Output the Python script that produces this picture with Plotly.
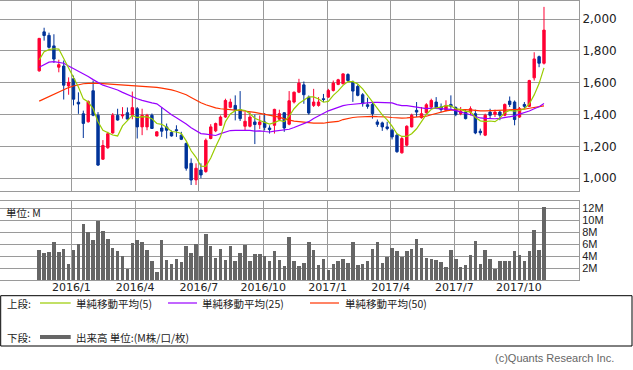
import pandas as pd
import plotly.graph_objects as go

# ---------------- data (weekly) ----------------
dates = pd.date_range("2015-11-16", periods=104, freq="7D")

open_ = [1675, 1920, 1898, 1832, 1698, 1705, 1580, 1625, 1478, 1405,
         1355, 1550, 1396, 1120, 1192, 1285, 1395, 1392, 1412, 1396,
         1437, 1323, 1323, 1396, 1266, 1316, 1323, 1288, 1305, 1271,
         1219, 1094, 990, 1052, 1042, 1250, 1298, 1333, 1385, 1446,
         1458, 1431, 1327, 1327, 1354, 1337, 1354, 1316, 1333, 1371,
         1412, 1340, 1479, 1541, 1587, 1510, 1458, 1458, 1500, 1510,
         1552, 1590, 1594, 1652, 1604, 1577, 1525, 1462, 1464, 1354,
         1348, 1323, 1302, 1271, 1160, 1208, 1323, 1427, 1381, 1412,
         1448, 1479, 1448, 1427, 1464, 1444, 1406, 1416, 1416, 1406,
         1296, 1271, 1416, 1402, 1416, 1396, 1485, 1479, 1385, 1464,
         1452, 1631, 1764, 1723]
high = [1882, 1946, 1915, 1905, 1745, 1740, 1634, 1645, 1540, 1425,
        1490, 1614, 1416, 1240, 1292, 1410, 1437, 1447, 1445, 1545,
        1448, 1437, 1405, 1407, 1295, 1447, 1344, 1300, 1333, 1292,
        1225, 1125, 1094, 1094, 1250, 1340, 1350, 1395, 1500, 1500,
        1521, 1548, 1416, 1416, 1400, 1395, 1410, 1333, 1437, 1431,
        1415, 1548, 1545, 1625, 1608, 1520, 1562, 1510, 1530, 1562,
        1614, 1625, 1660, 1660, 1614, 1590, 1535, 1506, 1479, 1369,
        1356, 1355, 1312, 1281, 1260, 1333, 1406, 1479, 1448, 1472,
        1500, 1510, 1470, 1490, 1521, 1452, 1448, 1427, 1452, 1431,
        1312, 1406, 1437, 1431, 1427, 1470, 1514, 1489, 1448, 1479,
        1619, 1792, 1771, 2077]
low = [1670, 1865, 1815, 1725, 1666, 1495, 1525, 1458, 1405, 1253,
       1350, 1390, 1077, 1115, 1185, 1280, 1362, 1375, 1370, 1371,
       1250, 1271, 1302, 1310, 1263, 1260, 1250, 1262, 1260, 1240,
       1048, 958, 958, 1000, 1035, 1245, 1290, 1330, 1380, 1440,
       1364, 1360, 1302, 1320, 1215, 1310, 1300, 1281, 1281, 1360,
       1292, 1333, 1470, 1535, 1468, 1400, 1448, 1450, 1480, 1505,
       1545, 1585, 1590, 1608, 1480, 1515, 1450, 1437, 1375, 1323,
       1298, 1302, 1244, 1160, 1155, 1200, 1320, 1385, 1375, 1405,
       1440, 1438, 1415, 1420, 1437, 1390, 1396, 1370, 1396, 1277,
       1270, 1265, 1375, 1385, 1365, 1390, 1448, 1333, 1380, 1440,
       1448, 1614, 1698, 1715]
close = [1879, 1897, 1823, 1749, 1714, 1585, 1603, 1497, 1467, 1345,
         1482, 1396, 1083, 1206, 1280, 1396, 1366, 1398, 1372, 1444,
         1323, 1396, 1396, 1313, 1292, 1296, 1302, 1266, 1300, 1245,
         1063, 989, 1063, 1021, 1239, 1323, 1344, 1385, 1489, 1479,
         1427, 1375, 1358, 1385, 1338, 1354, 1320, 1306, 1433, 1406,
         1316, 1487, 1541, 1598, 1525, 1410, 1479, 1479, 1495, 1552,
         1598, 1619, 1656, 1614, 1548, 1521, 1469, 1452, 1406, 1339,
         1323, 1313, 1260, 1167, 1250, 1327, 1396, 1416, 1406, 1462,
         1489, 1444, 1432, 1458, 1452, 1400, 1421, 1375, 1437, 1285,
         1286, 1396, 1396, 1416, 1396, 1464, 1464, 1369, 1437, 1452,
         1614, 1750, 1723, 1931]

ma5 = [1744, 1795, 1808, 1814, 1812, 1754, 1695, 1630, 1573, 1499,
       1479, 1437, 1355, 1302, 1289, 1272, 1266, 1329, 1362, 1395,
       1381, 1387, 1386, 1374, 1344, 1339, 1320, 1294, 1291, 1282,
       1235, 1173, 1132, 1076, 1075, 1127, 1198, 1262, 1356, 1404,
       1425, 1431, 1426, 1405, 1377, 1362, 1351, 1341, 1350, 1364,
       1356, 1390, 1437, 1470, 1493, 1512, 1511, 1498, 1478, 1483,
       1521, 1549, 1584, 1608, 1607, 1592, 1562, 1521, 1479, 1437,
       1398, 1367, 1328, 1280, 1263, 1263, 1280, 1311, 1359, 1401,
       1434, 1443, 1447, 1457, 1455, 1437, 1433, 1421, 1417, 1384,
       1361, 1356, 1360, 1356, 1378, 1414, 1427, 1422, 1426, 1437,
       1467, 1524, 1595, 1694]
ma25 = [1698, 1715, 1730, 1733, 1730, 1723, 1705, 1690, 1675, 1660,
        1640, 1620, 1600, 1585, 1575, 1565, 1555, 1540, 1525, 1512,
        1500, 1490, 1480, 1474, 1468, 1445, 1421, 1399, 1381, 1362,
        1341, 1317, 1299, 1281, 1277, 1271, 1269, 1281, 1292, 1300,
        1301, 1302, 1300, 1301, 1296, 1298, 1294, 1291, 1296, 1300,
        1301, 1308, 1319, 1331, 1343, 1356, 1376, 1393, 1412, 1424,
        1435, 1446, 1457, 1462, 1465, 1469, 1472, 1476, 1477, 1477,
        1476, 1475, 1474, 1463, 1457, 1457, 1453, 1448, 1441, 1438,
        1441, 1440, 1438, 1437, 1433, 1425, 1417, 1406, 1399, 1388,
        1379, 1376, 1373, 1374, 1376, 1382, 1388, 1392, 1403, 1411,
        1423, 1437, 1449, 1470]
ma50 = [1485, 1500, 1515, 1530, 1545, 1558, 1570, 1580, 1588, 1594,
        1597, 1598, 1597, 1595, 1593, 1591, 1589, 1587, 1585, 1583,
        1582, 1580, 1577, 1574, 1571, 1567, 1562, 1555, 1547, 1538,
        1525, 1508, 1490, 1475, 1462, 1450, 1442, 1437, 1433, 1430,
        1428, 1426, 1423, 1419, 1414, 1408, 1402, 1396, 1390, 1384,
        1373, 1365, 1359, 1356, 1352, 1349, 1346, 1346, 1346, 1351,
        1353, 1357, 1369, 1377, 1382, 1385, 1387, 1388, 1389, 1387,
        1387, 1385, 1382, 1379, 1378, 1379, 1381, 1384, 1386, 1390,
        1399, 1408, 1415, 1424, 1428, 1430, 1432, 1431, 1430, 1426,
        1424, 1424, 1425, 1425, 1427, 1429, 1432, 1433, 1433, 1434,
        1440, 1445, 1449, 1455]

volume_m = [5.06, 4.5, 4.7, 6.4, 4.7, 5.2, 2.6, 5.06, 6.0, 9.4,
            8.0, 6.6, 9.9, 8.2, 6.8, 5.4, 4.9, 4.0, 1.9, 6.1,
            6.6, 6.3, 5.06, 3.2, 1.4, 6.6, 3.3, 2.6, 3.5, 3.0,
            5.7, 4.5, 6.0, 4.0, 7.6, 5.6, 3.7, 5.2, 3.3, 5.7,
            3.2, 4.5, 5.9, 3.2, 4.4, 4.4, 4.0, 3.2, 4.9, 3.3,
            2.3, 7.1, 3.2, 2.3, 2.8, 6.3, 5.06, 2.5, 3.5, 1.6,
            2.6, 3.2, 3.5, 2.8, 6.4, 2.5, 2.6, 3.2, 5.2, 6.3,
            2.8, 3.9, 5.4, 4.9, 3.9, 4.9, 5.2, 6.8, 5.4, 3.7,
            3.5, 3.3, 3.0, 2.2, 5.0, 3.5, 2.1, 2.5, 4.2, 6.5,
            2.7, 5.0, 3.5, 1.9, 3.1, 3.2, 3.2, 4.8, 4.2, 3.1,
            4.8, 8.4, 5.0, 12.2]
volume = [v * 1e6 for v in volume_m]

month_ticks = ["2016-01-01", "2016-04-01", "2016-07-01", "2016-10-01",
               "2017-01-01", "2017-04-01", "2017-07-01", "2017-10-01"]
month_labels = ["2016/1", "2016/4", "2016/7", "2016/10",
                "2017/1", "2017/4", "2017/7", "2017/10"]
price_ticks = [1000, 1200, 1400, 1600, 1800, 2000]
vol_ticks = [2e6, 4e6, 6e6, 8e6, 10e6, 12e6]
vol_labels = ["2M", "4M", "6M", "8M", "10M", "12M"]

# ---------------- style ----------------
RED = "#ff0033"
BLUE = "#003399"
C_MA5 = "#99cc00"
C_MA25 = "#9900ff"
C_MA50 = "#ff3300"
GRID = "#9a9a9a"
VOLC = "#666666"

W, H = 633, 370
ML, MR, MT, MB = 0, 54, 1, 90
PH = H - MT - MB  # plot height in px


def px(xp):
    return xp / (W - ML - MR)


def py(yp):
    return (H - MB - yp) / PH


fig = go.Figure()
fig.add_trace(go.Candlestick(
    x=dates, open=open_, high=high, low=low, close=close,
    increasing=dict(line=dict(color=RED, width=1), fillcolor=RED),
    decreasing=dict(line=dict(color=BLUE, width=1), fillcolor=BLUE),
    whiskerwidth=0, xaxis="x", yaxis="y", showlegend=False,
))
for vals, col in [(ma50, C_MA50), (ma25, C_MA25), (ma5, C_MA5)]:
    fig.add_trace(go.Scatter(x=dates, y=vals, mode="lines",
                             line=dict(color=col, width=1.2),
                             xaxis="x", yaxis="y", showlegend=False))
fig.add_trace(go.Bar(x=dates, y=volume, marker=dict(color=VOLC, line=dict(width=0)),
                     width=5 * 24 * 3600 * 1000, xaxis="x2", yaxis="y2",
                     showlegend=False))

xr = ["2015-09-21", "2017-12-26"]
axis_common = dict(showgrid=True, gridcolor=GRID, gridwidth=1, showline=True,
                   linecolor=GRID, linewidth=1, mirror=True, zeroline=False,
                   ticks="")
fig.update_layout(
    width=W, height=H,
    margin=dict(l=ML, r=MR, t=MT, b=MB),
    paper_bgcolor="white", plot_bgcolor="white",
    showlegend=False,
    bargap=0,
    xaxis=dict(domain=[0, 1], anchor="y", range=xr, type="date",
               tickvals=month_ticks, showticklabels=False,
               rangeslider=dict(visible=False), **axis_common),
    yaxis=dict(domain=[py(190.7), 1], anchor="x", side="right",
               range=[922, 2114], tickvals=price_ticks, tickformat=",",
               tickfont=dict(family="DejaVu Sans", size=12, color="#222"),
               **axis_common),
    xaxis2=dict(domain=[0, 1], anchor="y2", range=xr, type="date",
                tickvals=month_ticks, ticktext=month_labels,
                ticklabelstandoff=-3,
                tickfont=dict(family="DejaVu Sans", size=11, color="#222"),
                **axis_common),
    yaxis2=dict(domain=[0, py(201)], anchor="x2", side="right",
                range=[0, 13.17e6], tickvals=vol_ticks, ticktext=vol_labels,
                tickfont=dict(family="Liberation Sans", size=11, color="#222"),
                **axis_common),
)

JP = "Noto Sans CJK JP"
shapes = [
    dict(type="rect", xref="paper", yref="paper", x0=px(0.7), x1=px(632),
         y0=py(295.7), y1=py(346), line=dict(color="black", width=1)),
    dict(type="line", xref="paper", yref="paper", x0=px(40), x1=px(70.7),
         y0=py(303), y1=py(303), line=dict(color=C_MA5, width=1.2)),
    dict(type="line", xref="paper", yref="paper", x0=px(168), x1=px(197),
         y0=py(303), y1=py(303), line=dict(color=C_MA25, width=1.2)),
    dict(type="line", xref="paper", yref="paper", x0=px(310), x1=px(339),
         y0=py(303), y1=py(303), line=dict(color=C_MA50, width=1.2)),
    dict(type="line", xref="paper", yref="paper", x0=px(40), x1=px(70.7),
         y0=py(337), y1=py(337), line=dict(color=VOLC, width=4)),
]
for s in shapes:
    fig.add_shape(**s)

texts = [
    ("上段:", 6, 303),
    ("単純移動平均(5)", 75, 303),
    ("単純移動平均(25)", 201, 303),
    ("単純移動平均(50)", 344, 303),
    ("下段:", 6, 337),
    ("出来高 単位:(M株/口/枚)", 75, 337),
    ("単位: M", 5, 212),
]
for t, x, y in texts:
    fig.add_annotation(text=t, x=px(x), y=py(y), xref="paper", yref="paper",
                       xanchor="left", yanchor="middle", showarrow=False,
                       font=dict(family=JP, size=10.5, color="#222"), borderpad=0)

fig.add_annotation(text="(c)Quants Research Inc.", x=px(615), y=py(357.7),
                   xref="paper", yref="paper", xanchor="right", yanchor="middle",
                   showarrow=False, borderpad=0,
                   font=dict(family="Liberation Sans", size=11, color="#666"))

fig.write_html("out.html",
               config={"displayModeBar": False},
               post_script="document.body.style.margin='0';document.body.style.padding='0';")
